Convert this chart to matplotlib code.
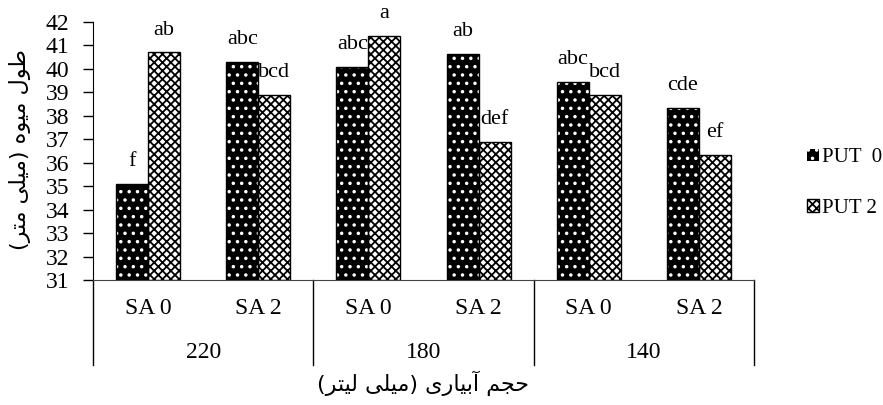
import matplotlib
matplotlib.use("Agg")
import matplotlib.pyplot as plt
from matplotlib.patches import Patch
from matplotlib.transforms import blended_transform_factory
import numpy as np

# ---------------- data ----------------
groups = ["220", "180", "140"]
sa_levels = ["SA 0", "SA 2"]
series_names = ["PUT  0", "PUT 2"]
put0 = [35.1, 40.3, 40.1, 40.65, 39.45, 38.35]
put2 = [40.7, 38.9, 41.4, 36.9, 38.9, 36.35]
letters_put0 = ["f", "abc", "abc", "ab", "abc", "cde"]
letters_put2 = ["ab", "bcd", "a", "def", "bcd", "ef"]
y_ticks = list(range(31, 43))

# ---------------- Persian text shaping (no shaping engine in matplotlib) ----------------
FORMS = {  # isolated, final, initial, medial
    "\u0637": ("\uFEC1", "\uFEC2", "\uFEC3", "\uFEC4"),
    "\u0648": ("\uFEED", "\uFEEE", None, None),
    "\u0644": ("\uFEDD", "\uFEDE", "\uFEDF", "\uFEE0"),
    "\u0645": ("\uFEE1", "\uFEE2", "\uFEE3", "\uFEE4"),
    "\u06CC": ("\uFEEF", "\uFEF0", "\uFEF3", "\uFEF4"),
    "\u0647": ("\uFEE9", "\uFEEA", "\uFEEB", "\uFEEC"),
    "\u062A": ("\uFE95", "\uFE96", "\uFE97", "\uFE98"),
    "\u0631": ("\uFEAD", "\uFEAE", None, None),
    "\u062D": ("\uFEA1", "\uFEA2", "\uFEA3", "\uFEA4"),
    "\u062C": ("\uFE9D", "\uFE9E", "\uFE9F", "\uFEA0"),
    "\u0622": ("\uFE81", "\uFE82", None, None),
    "\u0628": ("\uFE8F", "\uFE90", "\uFE91", "\uFE92"),
    "\u0627": ("\uFE8D", "\uFE8E", None, None),
}


def shape(text):
    out = []
    n = len(text)
    for i, ch in enumerate(text):
        if ch not in FORMS:
            out.append(ch)
            continue
        prev = text[i - 1] if i > 0 else None
        nxt = text[i + 1] if i < n - 1 else None
        joins_prev = prev in FORMS and FORMS[prev][2] is not None
        joins_next = nxt in FORMS and FORMS[ch][2] is not None
        iso, fin, ini, med = FORMS[ch]
        if joins_prev and joins_next:
            out.append(med)
        elif joins_prev:
            out.append(fin)
        elif joins_next:
            out.append(ini)
        else:
            out.append(iso)
    s = "".join(out)
    s = s.replace("(", "\0").replace(")", "(").replace("\0", ")")
    return s[::-1]


ylabel = shape("طول میوه (میلی متر)")
xlabel = shape("حجم آبیاری (میلی لیتر)")

# ---------------- figure ----------------
plt.rcParams["font.family"] = ["Liberation Serif", "DejaVu Serif"]
plt.rcParams["hatch.linewidth"] = 1.3

fig = plt.figure(figsize=(8.83, 4.05), dpi=100)
ax = fig.add_axes([93 / 883, (405 - 280) / 405, (754 - 93) / 883, (280 - 22) / 405])

n = len(put0)
x = np.arange(n)
w = 0.29

# PUT 0: black with white dots
ax.bar(x - w / 2, np.array(put0) - 31, w, bottom=31, facecolor="black",
       edgecolor="white", hatch="..", linewidth=0, zorder=2)
ax.bar(x - w / 2, np.array(put0) - 31, w, bottom=31, fill=False,
       edgecolor="black", linewidth=1, zorder=3)
# PUT 2: checkered
ax.bar(x + w / 2, np.array(put2) - 31, w, bottom=31, facecolor="white",
       edgecolor="black", hatch="xxxx", linewidth=1, zorder=2)

fs = 17
afs = 16
for xi, v, t in zip(x, put0, letters_put0):
    ax.text(xi - w / 2, v + 0.55, t, ha="center", va="bottom", fontsize=afs)
for xi, v, t in zip(x, put2, letters_put2):
    ax.text(xi + w / 2, v + 0.55, t, ha="center", va="bottom", fontsize=afs)

ax.set_xlim(-0.5, n - 0.5)
ax.set_ylim(31, 42)
ax.set_yticks(y_ticks)
ax.tick_params(axis="y", labelsize=fs, length=7, width=1, direction="out", pad=10)
ax.set_xticks(x)
ax.set_xticklabels(sa_levels * len(groups), fontsize=fs)
ax.tick_params(axis="x", length=0, pad=13)

for s in ["top", "right"]:
    ax.spines[s].set_visible(False)
ax.spines["bottom"].set_color("#444444")

# hierarchical category axis
tr = blended_transform_factory(ax.transData, ax.transAxes)
sep_bottom = -(365 - 280) / 258
for b in np.arange(-0.5, n, 2):
    ax.plot([b, b], [0, sep_bottom], transform=tr, color="black", lw=1, clip_on=False)
for gi, g in enumerate(groups):
    ax.text(gi * 2 + 0.5, -(352 - 280) / 258, g, transform=tr, ha="center",
            va="center", fontsize=fs)

ax.text(0.5 * (n - 1), -(383 - 280) / 258, xlabel, transform=tr, ha="center",
        va="center", fontsize=16, family=["DejaVu Sans"])
fig.text(20 / 883, 1 - 150 / 405, ylabel, rotation=90, ha="center", va="center",
         fontsize=16, family=["DejaVu Sans"])

handles = [Patch(facecolor="black", edgecolor="white", hatch="..", linewidth=0),
           Patch(facecolor="white", edgecolor="black", hatch="xxxx", linewidth=1)]
fig.legend(handles, series_names, loc="center left",
           bbox_to_anchor=(797 / 883, 1 - 183 / 405), frameon=False,
           fontsize=15, handlelength=0.55, handleheight=0.55, handletextpad=0.15,
           labelspacing=1.5, borderpad=0)

fig.savefig("out.png", dpi=100)
